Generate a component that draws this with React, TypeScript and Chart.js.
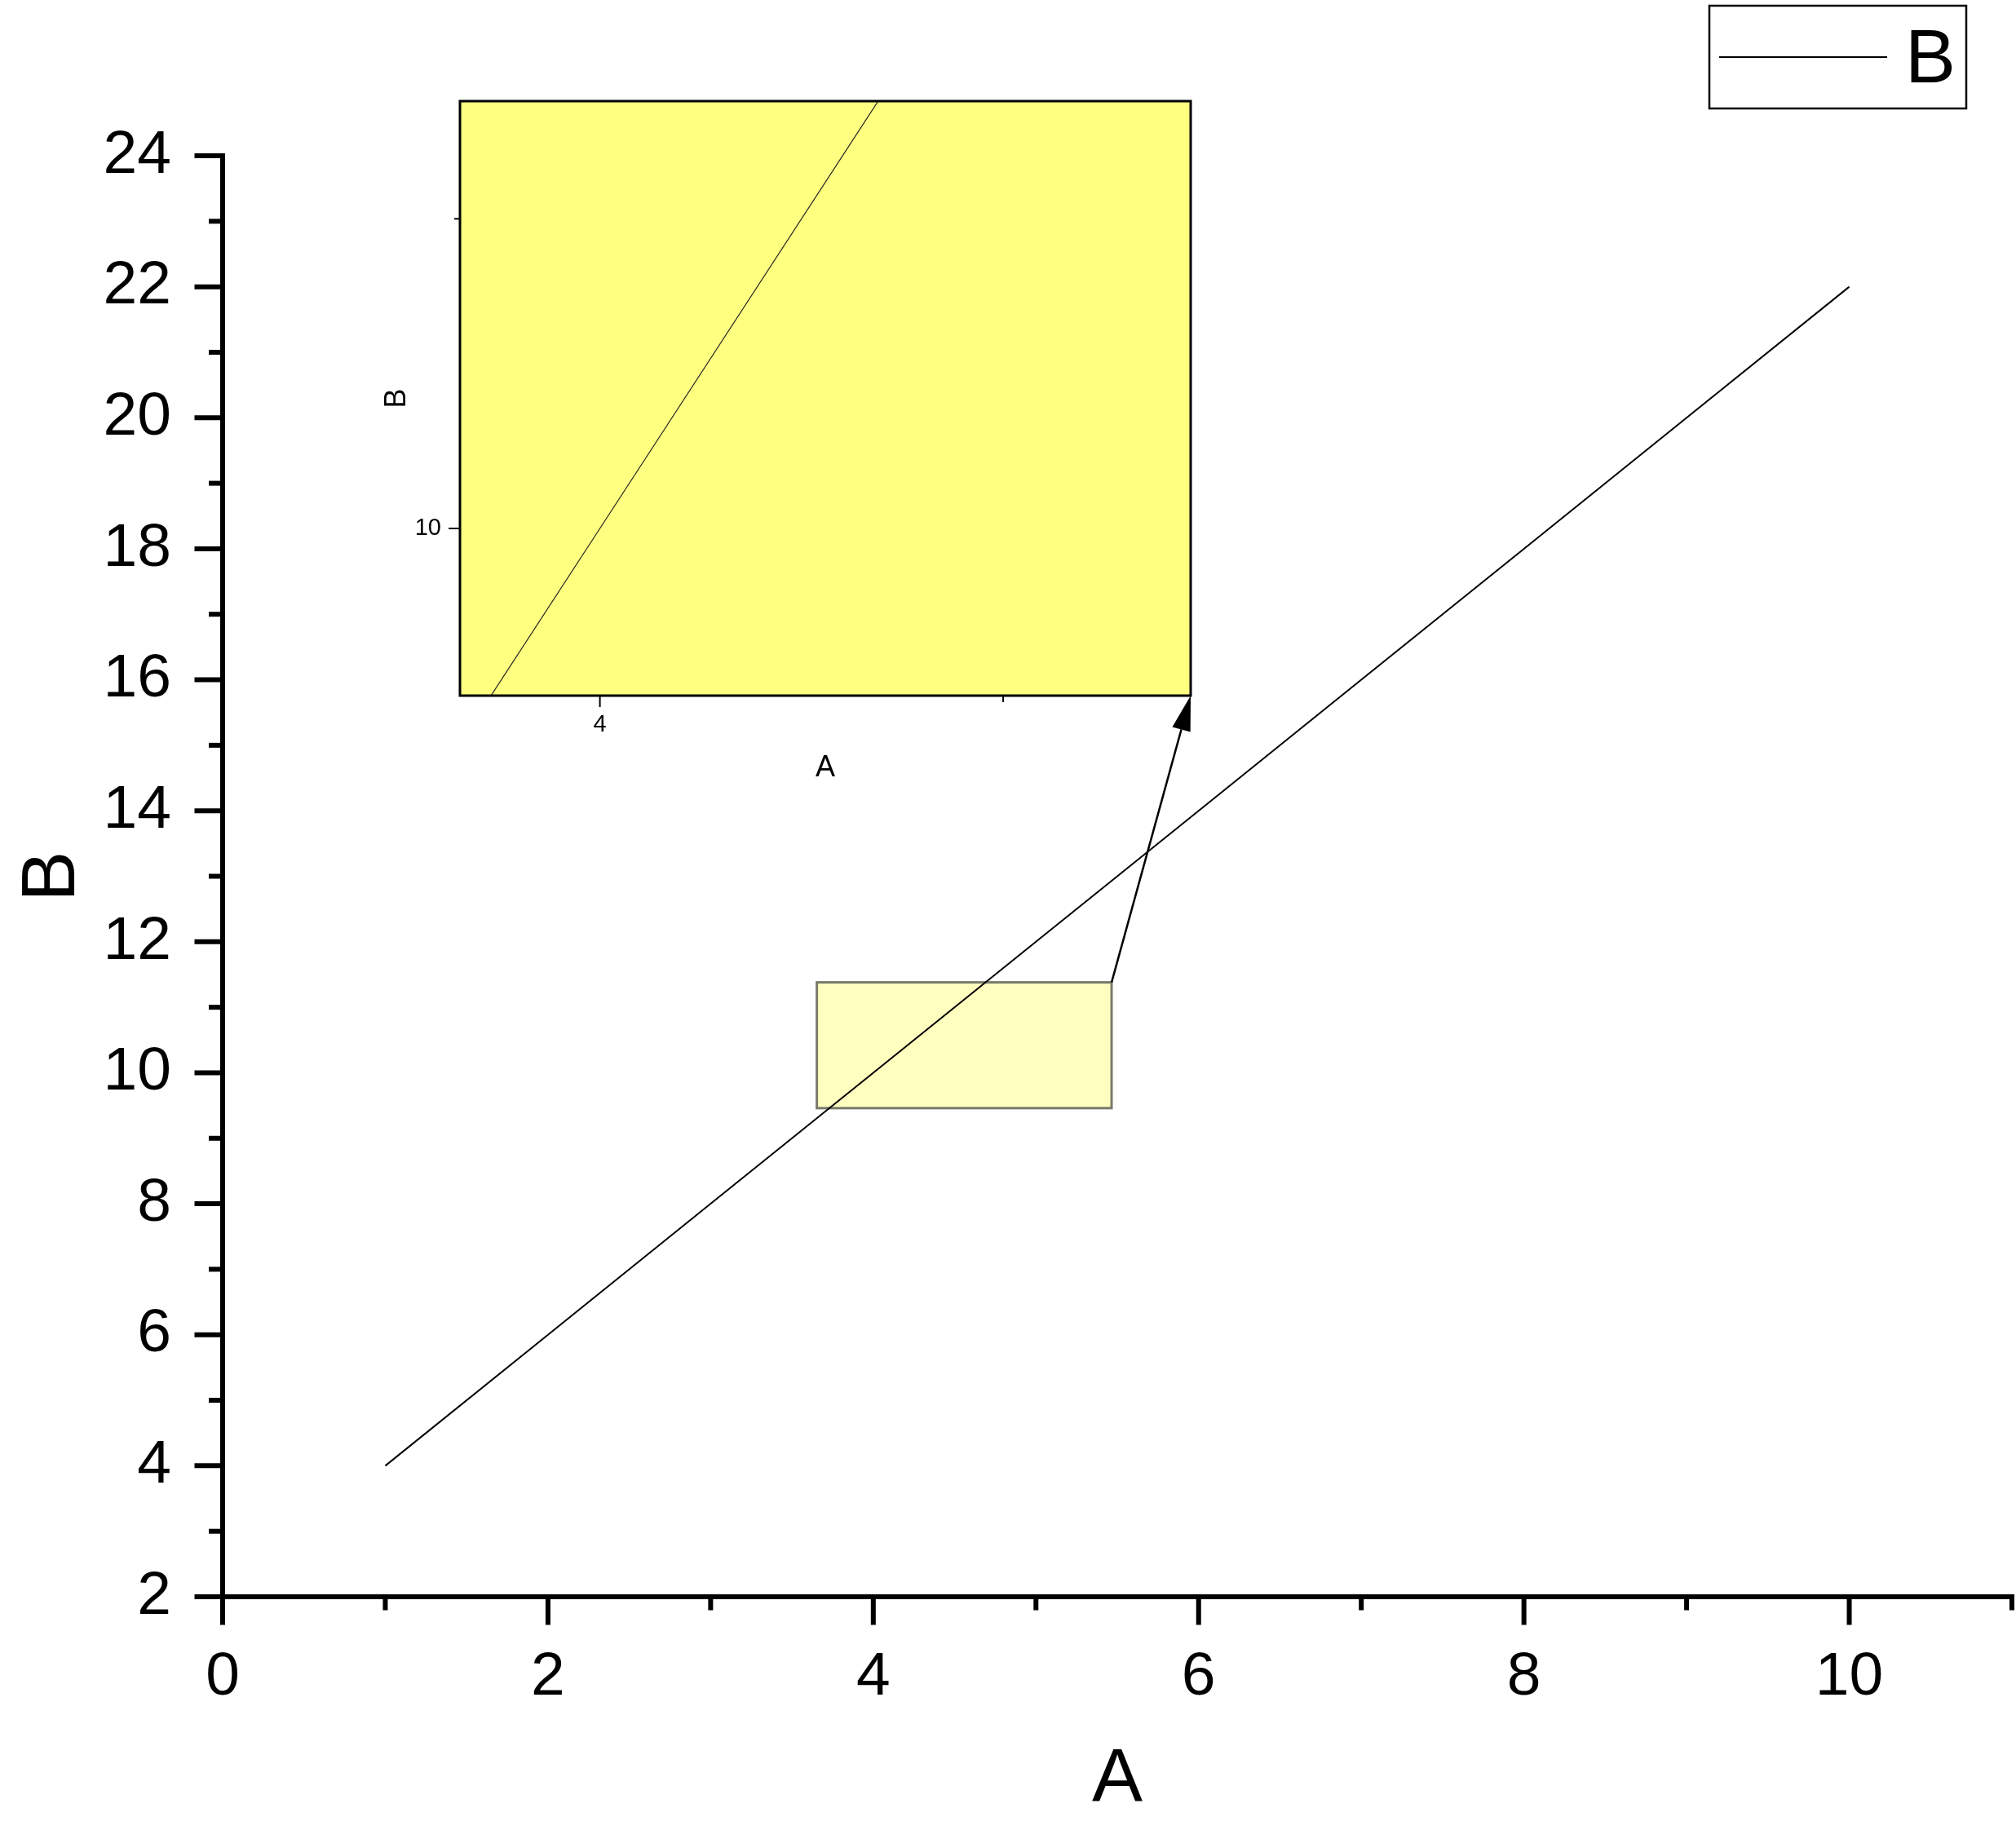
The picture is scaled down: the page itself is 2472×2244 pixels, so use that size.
import React, { useEffect, useRef } from 'react';
import { Chart, registerables } from 'chart.js';

Chart.register(...registerables);

// ---------- data ----------
const SERIES_NAME = 'B';
const A_VALUES = [1, 2, 3, 4, 5, 6, 7, 8, 9, 10];
const B_VALUES = [4, 6, 8, 10, 12, 14, 16, 18, 20, 22];

const X_TITLE = 'A';
const Y_TITLE = 'B';
const X_MIN = 0;
const X_MAX = 11;
const Y_MIN = 2;
const Y_MAX = 24;
const X_MAJOR_TICKS = [0, 2, 4, 6, 8, 10];
const X_MINOR_TICKS = [1, 3, 5, 7, 9, 11];
const Y_MAJOR_TICKS = [2, 4, 6, 8, 10, 12, 14, 16, 18, 20, 22, 24];
const Y_MINOR_TICKS = [3, 5, 7, 9, 11, 13, 15, 17, 19, 21, 23];

// zoomed region (inset)
const ZOOM_X_MIN = 3.653;
const ZOOM_X_MAX = 5.465;
const ZOOM_Y_MIN = 9.46;
const ZOOM_Y_MAX = 11.38;
const ZOOM_X_MAJOR_TICKS = [4];
const ZOOM_X_MINOR_TICKS = [5];
const ZOOM_Y_MAJOR_TICKS = [10];
const ZOOM_Y_MINOR_TICKS = [11];

// ---------- layout ----------
const W = 2472;
const H = 2244;
const INSET_LEFT = 400;
const INSET_TOP = 100;
const INSET_W = 1080;
const INSET_H = 870;
const FONT = "'Liberation Sans', Arial, Helvetica, sans-serif";

Chart.defaults.font.family = FONT;
Chart.defaults.color = '#000';

function points() {
  return A_VALUES.map((a, i) => ({ x: a, y: B_VALUES[i] }));
}

function drawTickSet(ctx: CanvasRenderingContext2D, scale: any, values: number[], axisPos: number, len: number, width: number) {
  ctx.save();
  ctx.strokeStyle = '#000';
  ctx.lineWidth = width;
  ctx.lineCap = 'butt';
  for (const v of values) {
    const p = scale.getPixelForValue(v);
    ctx.beginPath();
    if (scale.isHorizontal()) {
      ctx.moveTo(p, axisPos);
      ctx.lineTo(p, axisPos + len);
    } else {
      ctx.moveTo(axisPos, p);
      ctx.lineTo(axisPos - len, p);
    }
    ctx.stroke();
  }
  ctx.restore();
}

function noScalePadding(s: any) {
  s.paddingTop = 0;
  s.paddingBottom = 0;
  s.paddingLeft = 0;
  s.paddingRight = 0;
}

function makeInsetConfig(): any {
  const insetPlugin = {
    id: 'insetDecor',
    beforeDraw(chart: any) {
      const { ctx, chartArea: a } = chart;
      ctx.save();
      ctx.fillStyle = '#FFFF80';
      ctx.fillRect(a.left, a.top, a.right - a.left, a.bottom - a.top);
      ctx.restore();
    },
    afterDraw(chart: any) {
      const { ctx, chartArea: a } = chart;
      const xs = chart.scales.x;
      const ys = chart.scales.y;
      ctx.save();
      ctx.strokeStyle = '#000';
      ctx.lineWidth = 3;
      ctx.strokeRect(a.left, a.top, a.right - a.left, a.bottom - a.top);
      ctx.restore();
      drawTickSet(ctx, xs, ZOOM_X_MAJOR_TICKS, a.bottom, 14, 2);
      drawTickSet(ctx, xs, ZOOM_X_MINOR_TICKS, a.bottom, 8, 2);
      drawTickSet(ctx, ys, ZOOM_Y_MAJOR_TICKS, a.left, 14, 2);
      drawTickSet(ctx, ys, ZOOM_Y_MINOR_TICKS, a.left, 7, 2);
    },
  };
  return {
    type: 'scatter',
    data: {
      datasets: [
        {
          label: SERIES_NAME,
          data: points(),
          showLine: true,
          borderColor: '#222',
          borderWidth: 1.2,
          pointRadius: 0,
          fill: false,
        },
      ],
    },
    options: {
      animation: false,
      responsive: false,
      devicePixelRatio: 1,
      events: [],
      layout: { padding: { top: 24, right: 20, left: 0, bottom: 0 } },
      plugins: { legend: { display: false }, tooltip: { enabled: false }, title: { display: false } },
      scales: {
        x: {
          type: 'linear',
          position: 'bottom',
          min: ZOOM_X_MIN,
          max: ZOOM_X_MAX,
          grid: { display: false },
          border: { display: false },
          afterBuildTicks: (s: any) => {
            s.ticks = ZOOM_X_MAJOR_TICKS.map((v) => ({ value: v }));
          },
          afterFit: (s: any) => {
            s.height = 117;
            noScalePadding(s);
          },
          ticks: {
            autoSkip: false,
            maxRotation: 0,
            padding: 11,
            color: '#000',
            font: { size: 29, family: FONT },
            callback: (v: any) => String(v),
          },
          title: {
            display: true,
            text: X_TITLE,
            color: '#000',
            font: { size: 36, family: FONT },
            padding: { top: 0, bottom: 6 },
          },
        },
        y: {
          type: 'linear',
          position: 'left',
          min: ZOOM_Y_MIN,
          max: ZOOM_Y_MAX,
          grid: { display: false },
          border: { display: false },
          afterBuildTicks: (s: any) => {
            s.ticks = ZOOM_Y_MAJOR_TICKS.map((v) => ({ value: v }));
          },
          afterFit: (s: any) => {
            s.width = 164;
            noScalePadding(s);
          },
          ticks: {
            autoSkip: false,
            padding: 15,
            color: '#000',
            font: { size: 29, family: FONT },
            callback: (v: any) => String(v),
          },
          title: {
            display: true,
            text: Y_TITLE,
            color: '#000',
            font: { size: 36, family: FONT },
            padding: { top: 65, bottom: 0 },
          },
        },
      },
    },
    plugins: [insetPlugin],
  };
}

function makeMainConfig(inset: any): any {
  const mainPlugin = {
    id: 'mainDecor',
    beforeDatasetsDraw(chart: any) {
      const { ctx } = chart;
      const xs = chart.scales.x;
      const ys = chart.scales.y;
      const x0 = xs.getPixelForValue(ZOOM_X_MIN);
      const x1 = xs.getPixelForValue(ZOOM_X_MAX);
      const y0 = ys.getPixelForValue(ZOOM_Y_MAX);
      const y1 = ys.getPixelForValue(ZOOM_Y_MIN);
      ctx.save();
      ctx.fillStyle = 'rgba(255,255,128,0.5)';
      ctx.fillRect(x0, y0, x1 - x0, y1 - y0);
      ctx.strokeStyle = '#7a7a6c';
      ctx.lineWidth = 3;
      ctx.strokeRect(x0, y0, x1 - x0, y1 - y0);
      ctx.restore();
    },
    afterDraw(chart: any) {
      const { ctx, chartArea: a } = chart;
      const xs = chart.scales.x;
      const ys = chart.scales.y;

      // axis lines
      ctx.save();
      ctx.strokeStyle = '#000';
      ctx.lineWidth = 6;
      ctx.lineCap = 'butt';
      ctx.beginPath();
      ctx.moveTo(a.left, a.top - 3);
      ctx.lineTo(a.left, a.bottom + 3);
      ctx.stroke();
      ctx.beginPath();
      ctx.moveTo(a.left - 3, a.bottom);
      ctx.lineTo(a.right + 3, a.bottom);
      ctx.stroke();
      ctx.restore();

      drawTickSet(ctx, xs, X_MAJOR_TICKS, a.bottom, 34.5, 6);
      drawTickSet(ctx, xs, X_MINOR_TICKS, a.bottom, 16.5, 6);
      drawTickSet(ctx, ys, Y_MAJOR_TICKS, a.left, 34.5, 6);
      drawTickSet(ctx, ys, Y_MINOR_TICKS, a.left, 17, 6);

      // arrow from zoom rectangle to inset corner
      const sx = xs.getPixelForValue(ZOOM_X_MAX);
      const sy = ys.getPixelForValue(ZOOM_Y_MAX);
      const ex = INSET_LEFT + inset.chartArea.right;
      const ey = INSET_TOP + inset.chartArea.bottom;
      const ang = Math.atan2(ey - sy, ex - sx);
      const headLen = 43;
      const headHalf = 11.5;
      const bx = ex - headLen * Math.cos(ang);
      const by = ey - headLen * Math.sin(ang);
      ctx.save();
      ctx.strokeStyle = '#000';
      ctx.fillStyle = '#000';
      ctx.lineWidth = 2.5;
      ctx.beginPath();
      ctx.moveTo(sx, sy);
      ctx.lineTo(bx, by);
      ctx.stroke();
      ctx.beginPath();
      ctx.moveTo(ex, ey);
      ctx.lineTo(bx + headHalf * Math.sin(ang), by - headHalf * Math.cos(ang));
      ctx.lineTo(bx - headHalf * Math.sin(ang), by + headHalf * Math.cos(ang));
      ctx.closePath();
      ctx.fill();
      ctx.restore();

      // legend
      const ds = chart.data.datasets[0];
      ctx.save();
      ctx.strokeStyle = '#000';
      ctx.lineWidth = 2.5;
      ctx.strokeRect(2096, 7, 315, 126);
      ctx.strokeStyle = ds.borderColor;
      ctx.lineWidth = ds.borderWidth;
      ctx.beginPath();
      ctx.moveTo(2108, 70);
      ctx.lineTo(2314, 70);
      ctx.stroke();
      ctx.fillStyle = '#000';
      ctx.font = `93px ${FONT}`;
      ctx.textAlign = 'left';
      ctx.textBaseline = 'alphabetic';
      ctx.fillText(ds.label, 2336, 101);
      ctx.restore();
    },
  };

  return {
    type: 'scatter',
    data: {
      datasets: [
        {
          label: SERIES_NAME,
          data: points(),
          showLine: true,
          borderColor: '#000',
          borderWidth: 2,
          pointRadius: 0,
          fill: false,
        },
      ],
    },
    options: {
      animation: false,
      responsive: false,
      devicePixelRatio: 1,
      events: [],
      layout: { padding: { top: 191, right: 5, left: 0, bottom: 0 } },
      plugins: { legend: { display: false }, tooltip: { enabled: false }, title: { display: false } },
      scales: {
        x: {
          type: 'linear',
          position: 'bottom',
          min: X_MIN,
          max: X_MAX,
          grid: { display: false },
          border: { display: false },
          afterBuildTicks: (s: any) => {
            s.ticks = X_MAJOR_TICKS.map((v) => ({ value: v }));
          },
          afterFit: (s: any) => {
            s.height = 286;
            noScalePadding(s);
          },
          ticks: {
            autoSkip: false,
            maxRotation: 0,
            padding: 46,
            color: '#000',
            font: { size: 75, family: FONT },
            callback: (v: any) => String(v),
          },
          title: {
            display: true,
            text: X_TITLE,
            color: '#000',
            font: { size: 93, family: FONT },
            padding: { top: 0, bottom: 4.5 },
          },
        },
        y: {
          type: 'linear',
          position: 'left',
          min: Y_MIN,
          max: Y_MAX,
          grid: { display: false },
          border: { display: false },
          afterBuildTicks: (s: any) => {
            s.ticks = Y_MAJOR_TICKS.map((v) => ({ value: v }));
          },
          afterFit: (s: any) => {
            s.width = 273;
            noScalePadding(s);
          },
          ticks: {
            autoSkip: false,
            padding: 55,
            color: '#000',
            font: { size: 75, family: FONT },
            callback: (v: any) => String(v),
          },
          title: {
            display: true,
            text: Y_TITLE,
            color: '#000',
            font: { size: 93, family: FONT },
            padding: { top: 10, bottom: 0 },
          },
        },
      },
    },
    plugins: [mainPlugin],
  };
}

export default function App() {
  const mainRef = useRef<HTMLCanvasElement | null>(null);
  const insetRef = useRef<HTMLCanvasElement | null>(null);

  useEffect(() => {
    if (!mainRef.current || !insetRef.current) return;
    const inset = new Chart(insetRef.current, makeInsetConfig());
    const main = new Chart(mainRef.current, makeMainConfig(inset));
    return () => {
      main.destroy();
      inset.destroy();
    };
  }, []);

  return (
    <div style={{ position: 'absolute', left: 0, top: 0, width: W, height: H, background: '#fff', overflow: 'hidden' }}>
      <canvas
        ref={mainRef}
        width={W}
        height={H}
        style={{ position: 'absolute', left: 0, top: 0, width: W, height: H, display: 'block' }}
      />
      <canvas
        ref={insetRef}
        width={INSET_W}
        height={INSET_H}
        style={{ position: 'absolute', left: INSET_LEFT, top: INSET_TOP, width: INSET_W, height: INSET_H, display: 'block' }}
      />
    </div>
  );
}
